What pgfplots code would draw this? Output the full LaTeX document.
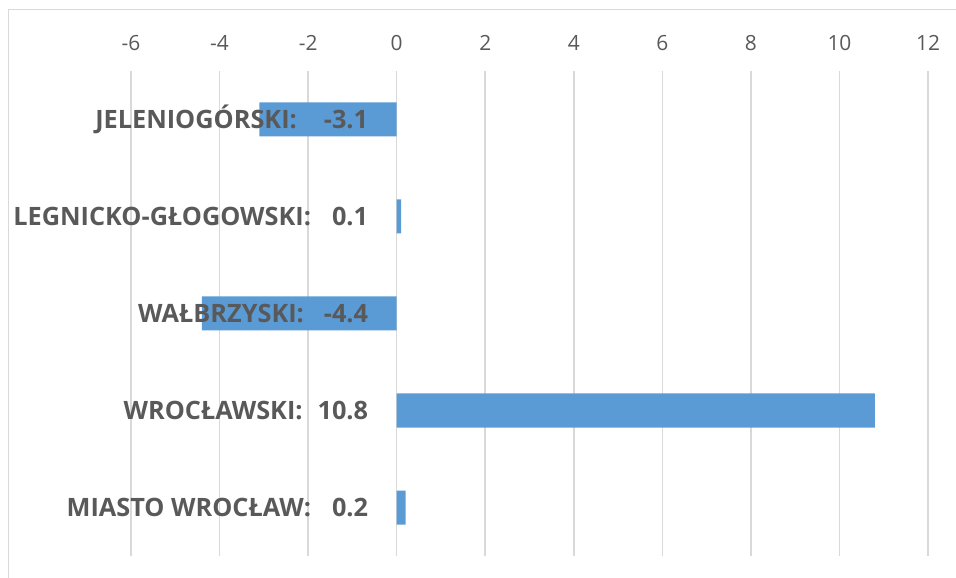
\documentclass[border=0pt]{standalone}
\usepackage{pgfplots}
\pgfplotsset{compat=1.18}
\usepackage{fontspec}
\setmainfont{Open Sans}
\definecolor{barblue}{HTML}{5B9BD5}
\definecolor{gridgray}{HTML}{D9D9D9}
\definecolor{txtgray}{HTML}{595959}
\begin{document}
\begin{tikzpicture}[x=1bp,y=1bp]
\useasboundingbox (0,0) rectangle (956,578);
\draw[gridgray, line width=1.5bp] (8.5,-10) -- (8.5,568.5) -- (970,568.5);
\begin{axis}[
  at={(131bp,22bp)}, anchor=south west,
  scale only axis, width=797bp, height=485bp,
  xmin=-6, xmax=12, ymin=0.5, ymax=5.5, y dir=reverse,
  xbar, bar width=34bp,
  axis line style={draw=none},
  major tick length=0pt,
  xtick={-6,-4,-2,0,2,4,6,8,10,12},
  xticklabels={-6,-4,-2,0,2,4,6,8,10,12},
  xticklabel pos=upper,
  xticklabel style={anchor=base, yshift=20.5bp, font=\fontsize{21}{23}\selectfont, text=txtgray},
  ytick=\empty,
  xmajorgrids, major grid style={gridgray, line width=1.5bp},
  clip=false,
]
\addplot[fill=barblue, draw=none] table[x=v, y=c] {
c v
1 -3.1
2 0.1
3 -4.4
4 10.8
5 0.2
};
\tikzset{lbl/.style={anchor=base east, yshift=-9bp, text=txtgray, font=\bfseries\fontsize{25.4}{28}\selectfont, inner sep=0pt}}
\node[lbl] at (axis cs:-0.64,1) {JELENIOGÓRSKI:\hspace{27bp}-3.1};
\node[lbl] at (axis cs:-0.64,2) {LEGNICKO-GŁOGOWSKI:\hspace{21bp}0.1};
\node[lbl] at (axis cs:-0.64,3) {WAŁBRZYSKI:\hspace{20bp}-4.4};
\node[lbl] at (axis cs:-0.64,4) {WROCŁAWSKI:\hspace{15bp}10.8};
\node[lbl] at (axis cs:-0.64,5) {MIASTO WROCŁAW:\hspace{21bp}0.2};
\end{axis}
\end{tikzpicture}
\end{document}
